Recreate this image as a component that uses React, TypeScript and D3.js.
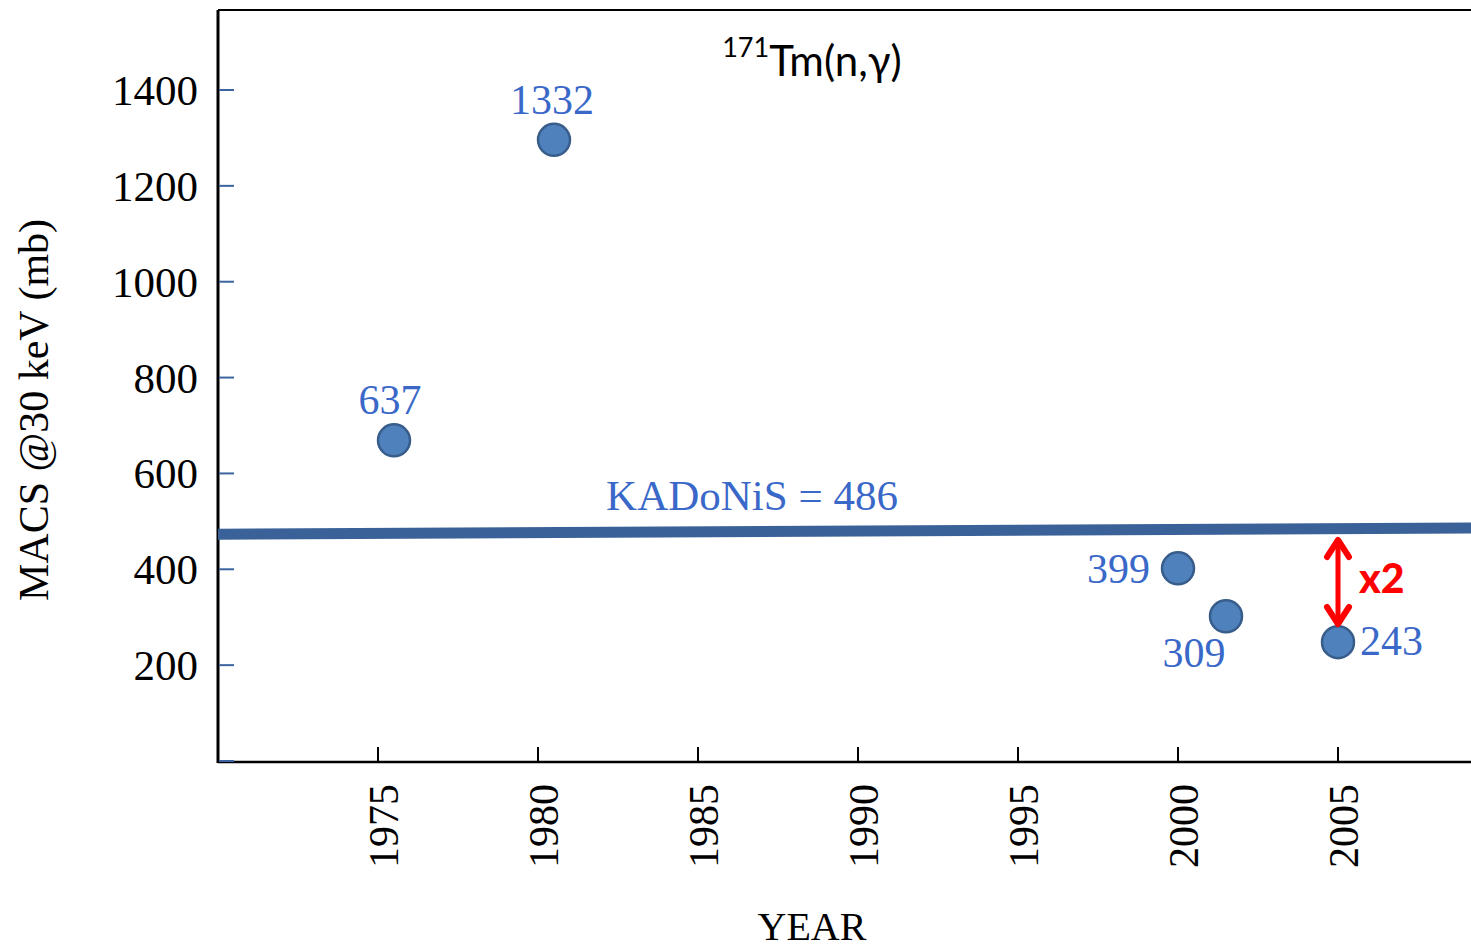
import React from "react";
import * as d3 from "d3";

const years = [1975.5, 1980.5, 2000, 2001.5, 2005];
const values = [669, 1296, 402, 302, 248];
const labels = ["637", "1332", "399", "309", "243"];
const yTicks = [200, 400, 600, 800, 1000, 1200, 1400];
const xTicks = [1975, 1980, 1985, 1990, 1995, 2000, 2005];
const kadonisYears = [1970, 2009.3];
const kadonisValues = [473, 486];

export default function App() {
  const W = 1471, H = 950;
  const x = d3.scaleLinear().domain([1975, 2005]).range([378, 1338]);
  const y = d3.scaleLinear().domain([0, 1400]).range([761, 90]);
  const left = x(1970);
  const top = 10;
  const bottom = y(0) + 1;
  const blue = "#3a68c8";
  const serif = "'Liberation Serif', 'Times New Roman', serif";
  const sans = "Lato, 'Open Sans', sans-serif";
  const lineGen = d3.line<number>().x((d, i) => x(kadonisYears[i])).y((d) => y(d));
  const labelPos = [
    { dx: -4, dy: -26, anchor: "middle" },
    { dx: -2, dy: -26, anchor: "middle" },
    { dx: -28, dy: 15, anchor: "end" },
    { dx: -32, dy: 51, anchor: "middle" },
    { dx: 22, dy: 13, anchor: "start" },
  ];
  const arrowX = x(2005);
  const arrowTop = 540;
  const arrowBot = 624;
  return (
    <svg width={W} height={H} style={{ position: "absolute", left: 0, top: 0, background: "#fff" }}>
      <defs>
        <clipPath id="plot">
          <rect x={left} y={top} width={W - left} height={bottom - top} />
        </clipPath>
      </defs>
      <line x1={left} x2={W} y1={top} y2={top} stroke="#000" strokeWidth={2} />
      <line x1={left} x2={left} y1={top} y2={bottom + 1} stroke="#000" strokeWidth={3} />
      <line x1={left} x2={W} y1={bottom} y2={bottom} stroke="#000" strokeWidth={2.5} />
      {[0, ...yTicks].map((t) => (
        <line key={"yt" + t} x1={left + 1} x2={left + 16} y1={y(t)} y2={y(t)} stroke="#3c64a0" strokeWidth={2} />
      ))}
      {yTicks.map((t) => (
        <text key={"yl" + t} x={198} y={y(t) + 15} textAnchor="end" fontFamily={serif} fontSize={43} fill="#000">
          {t}
        </text>
      ))}
      {xTicks.map((t) => (
        <g key={"xt" + t}>
          <line x1={x(t)} x2={x(t)} y1={bottom - 15} y2={bottom} stroke="#000" strokeWidth={2} />
          <text
            transform={`translate(${x(t) + 20},${784}) rotate(-90)`}
            textAnchor="end"
            fontFamily={serif}
            fontSize={42}
            fill="#000"
          >
            {t}
          </text>
        </g>
      ))}
      <text x={812} y={940} textAnchor="middle" fontFamily={serif} fontSize={40} fill="#000">YEAR</text>
      <text
        transform={`translate(48,410) rotate(-90)`}
        textAnchor="middle"
        fontFamily={serif}
        fontSize={42}
        fill="#000"
      >
        MACS @30 keV (mb)
      </text>
      <g clipPath="url(#plot)">
        <path d={lineGen(kadonisValues) || ""} stroke="#3a6298" strokeWidth={11} fill="none" />
      </g>
      <text x={752} y={510} textAnchor="middle" fontFamily={serif} fontSize={43} fill={blue}>
        KADoNiS = 486
      </text>
      {years.map((yr, i) => (
        <circle key={"c" + i} cx={x(yr)} cy={y(values[i])} r={16} fill="#4f81bd" stroke="#385d8a" strokeWidth={2.5} />
      ))}
      {years.map((yr, i) => (
        <text
          key={"l" + i}
          x={x(yr) + labelPos[i].dx}
          y={y(values[i]) + labelPos[i].dy}
          textAnchor={labelPos[i].anchor as any}
          fontFamily={serif}
          fontSize={42}
          fill={blue}
        >
          {labels[i]}
        </text>
      ))}
      <text x={812} y={76} textAnchor="middle" fontFamily={sans} fontSize={42} fill="#000">
        <tspan fontSize={27} dy={-19}>171</tspan>
        <tspan dy={19}>Tm(n,γ)</tspan>
      </text>
      <g stroke="#ff0000" strokeWidth={5} fill="none" strokeLinecap="round" strokeLinejoin="round">
        <line x1={arrowX} x2={arrowX} y1={arrowTop + 2} y2={arrowBot - 2} />
        <polyline strokeWidth={6} points={`${arrowX - 11},${arrowTop + 17} ${arrowX},${arrowTop} ${arrowX + 11},${arrowTop + 17}`} />
        <polyline strokeWidth={6} points={`${arrowX - 11},${arrowBot - 17} ${arrowX},${arrowBot} ${arrowX + 11},${arrowBot - 17}`} />
      </g>
      <text x={1359} y={593} fontFamily={sans} fontWeight={900} fontSize={41} fill="#ff0000">
        x2
      </text>
    </svg>
  );
}
